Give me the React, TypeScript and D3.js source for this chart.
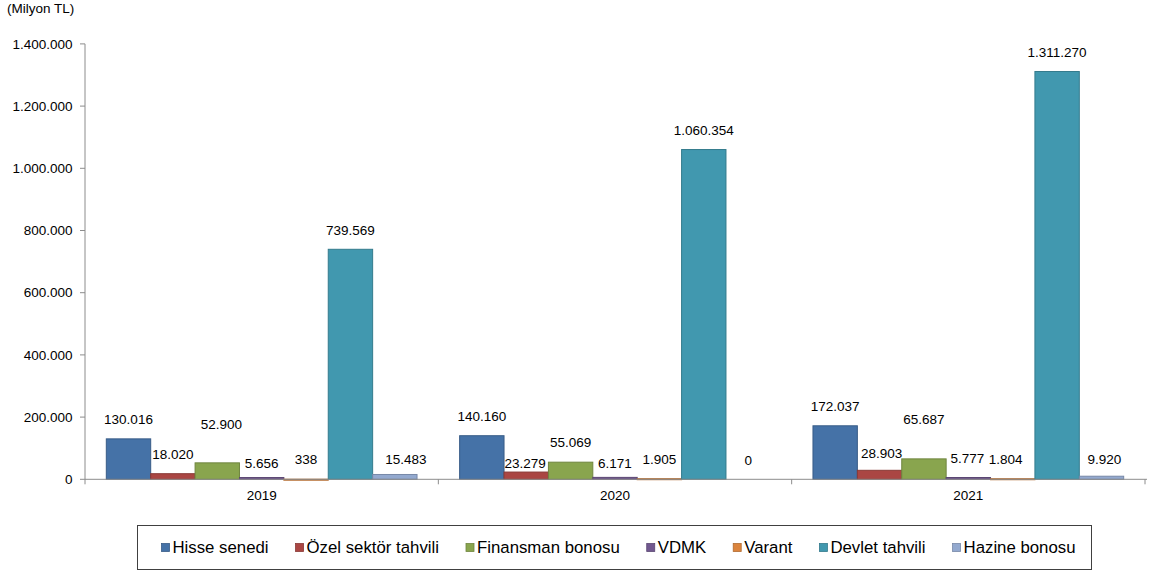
import React from "react";
import * as d3 from "d3";

const years = ["2019", "2020", "2021"];
const seriesNames = [
  "Hisse senedi",
  "Özel sektör tahvili",
  "Finansman bonosu",
  "VDMK",
  "Varant",
  "Devlet tahvili",
  "Hazine bonosu",
];
const seriesColors = ["#4572A7", "#AA4643", "#89A54E", "#71588F", "#DB843D", "#4198AF", "#93A9CF"];
const values2019 = [130016, 18020, 52900, 5656, 338, 739569, 15483];
const values2020 = [140160, 23279, 55069, 6171, 1905, 1060354, 0];
const values2021 = [172037, 28903, 65687, 5777, 1804, 1311270, 9920];
const valuesByYear = [values2019, values2020, values2021];
const yTicks = [0, 200000, 400000, 600000, 800000, 1000000, 1200000, 1400000];
const unitLabel = "(Milyon TL)";

// manual data-label nudges (pixels) as placed in the original
const nudgeX = [
  [0, 0, 4, 0, 0, 0, 11],
  [0, -1, 0, 0, 0, 0, 0],
  [0, 2, 0, -1, -7, 0, 3],
];
const nudgeY = [
  [0, 0, -19, 5, 0, 0, 4],
  [0, 11, 0, 5, 0, 0, 0],
  [0, 2, -20, 0, 0, 0, 3],
];

const FONT = "'Liberation Sans', Arial, sans-serif";
const fmt = (v: number) => d3.format(",")(v).replace(/,/g, ".");

function measure(text: string, size: number) {
  const c = document.createElement("canvas").getContext("2d");
  if (!c) return text.length * size * 0.55;
  c.font = `${size}px 'Liberation Sans', Arial, sans-serif`;
  return c.measureText(text).width;
}

export default function App() {
  const W = 1155;
  const H = 574;
  const left = 85;
  const right = 1145;
  const top = 43.9;
  const bottom = 479.3;

  const x = d3.scaleBand<string>().domain(years).range([left, right]).padding(0);
  const xi = d3
    .scaleBand<string>()
    .domain(seriesNames)
    .range([0, x.bandwidth()])
    .paddingInner(0)
    .paddingOuter(0.48);
  const y = d3.scaleLinear().domain([0, 1400000]).range([bottom, top]);

  // legend layout
  const legendFont = 16.8;
  const sq = 8;
  const gapAfterSq = 3;
  const itemGap = 27;
  const widths = seriesNames.map((s) => sq + gapAfterSq + measure(s, legendFont));
  const total = d3.sum(widths) + itemGap * (seriesNames.length - 1);
  let cursor = 618.5 - total / 2;
  const legendX = widths.map((w) => {
    const p = cursor;
    cursor += w + itemGap;
    return p;
  });
  const legendCY = 547.5;

  const boundaries = [left, ...years.map((yr) => (x(yr) as number) + x.bandwidth())];

  return (
    <svg
      width={W}
      height={H}
      style={{ position: "absolute", left: 0, top: 0, background: "#fff" }}
      fontFamily={FONT}
    >
      <text x={7} y={13} fontSize={13.5} fill="#000">
        {unitLabel}
      </text>

      {/* y axis */}
      <line x1={left} x2={left} y1={top} y2={bottom} stroke="#8c8c8c" strokeWidth={1} />
      {yTicks.map((t) => (
        <g key={t}>
          <line x1={left - 5} x2={left} y1={y(t)} y2={y(t)} stroke="#8c8c8c" />
          <text x={72.5} y={y(t)} dy="0.35em" textAnchor="end" fontSize={13.5} fill="#000">
            {fmt(t)}
          </text>
        </g>
      ))}

      {/* bars */}
      {years.map((yr, yi) => (
        <g key={yr} transform={`translate(${x(yr)},0)`}>
          {seriesNames.map((s, si) => {
            const v = valuesByYear[yi][si];
            const bx = xi(s) as number;
            const bw = xi.bandwidth();
            const yt = y(v);
            const color = seriesColors[si];
            return (
              <g key={s}>
                {v > 0 && (
                  <rect
                    x={bx}
                    y={yt}
                    width={bw}
                    height={Math.max(bottom - yt, 1)}
                    fill={color}
                    stroke={d3.color(color)!.darker(0.6).formatHex()}
                    strokeWidth={1}
                  />
                )}
                <text
                  x={bx + bw / 2 + nudgeX[yi][si]}
                  y={yt - 19.5 + nudgeY[yi][si]}
                  dy="0.35em"
                  textAnchor="middle"
                  fontSize={13.5}
                  fill="#000"
                >
                  {fmt(v)}
                </text>
              </g>
            );
          })}
          <text
            x={x.bandwidth() / 2}
            y={495}
            dy="0.35em"
            textAnchor="middle"
            fontSize={13.5}
            fill="#000"
          >
            {yr}
          </text>
        </g>
      ))}

      {/* x axis */}
      <line x1={left} x2={right + 2} y1={bottom} y2={bottom} stroke="#8c8c8c" strokeWidth={1} />
      {boundaries.map((b, i) => (
        <line key={i} x1={b} x2={b} y1={bottom} y2={bottom + 5} stroke="#8c8c8c" />
      ))}

      {/* legend */}
      <rect x={137.5} y={525.5} width={954} height={44} fill="#fff" stroke="#404040" strokeWidth={1} />
      {seriesNames.map((s, i) => (
        <g key={s}>
          <rect
            x={legendX[i]}
            y={legendCY - sq / 2}
            width={sq}
            height={sq}
            fill={seriesColors[i]}
            stroke={d3.color(seriesColors[i])!.darker(0.6).formatHex()}
            strokeWidth={0.8}
          />
          <text
            x={legendX[i] + sq + gapAfterSq}
            y={legendCY}
            dy="0.35em"
            fontSize={legendFont}
            fill="#000"
          >
            {s}
          </text>
        </g>
      ))}
    </svg>
  );
}
